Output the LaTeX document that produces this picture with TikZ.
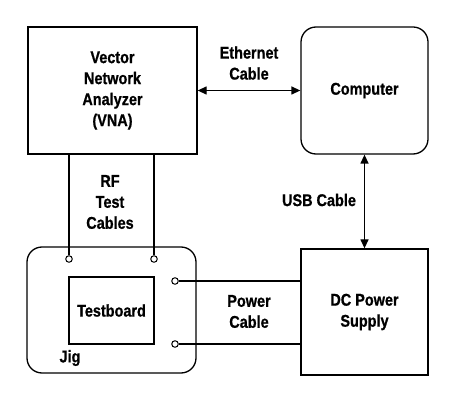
\documentclass[tikz,border=0pt]{standalone}
\usepackage{fontspec}
\setmainfont{Liberation Sans}[FakeStretch=0.85, BoldFeatures={FakeBold=0.8}]
\usetikzlibrary{arrows.meta}
\begin{document}
\begin{tikzpicture}[x=1pt,y=-1pt,
  every node/.style={font=\fontsize{17}{21}\selectfont\bfseries, align=center, inner sep=0pt},
  box/.style={draw, line width=1.3pt, minimum width=169pt, minimum height=127pt},
  rbox/.style={box, rounded corners=15pt},
  wire/.style={line width=1.3pt},
  dbl/.style={wire, {Triangle[length=9pt,width=8pt]}-{Triangle[length=9pt,width=8pt]}},
  port/.style={draw, line width=1pt, circle, minimum size=6.5pt, fill=white}]
\useasboundingbox (0,0) rectangle (460,403);
\node[box] (vna) at (112.5,90.5) {Vector\\Network\\Analyzer\\(VNA)};
\node[rbox, minimum width=127pt] (comp) at (364.5,90.5) {Computer};
\node[box, minimum width=127pt, minimum height=126pt] (dc) at (364.5,312) {DC Power\\Supply};
\node[rbox, minimum height=126pt] (jig) at (111.5,310) {};
\node[draw, line width=1.3pt, minimum width=85pt, minimum height=67pt] (tb) at (111.5,310.5) {Testboard};
\node (jiglbl) at (70,358) {Jig};
\node[port] (p1) at (69,259) {};
\node[port] (p2) at (154,259) {};
\node[port] (p3) at (175,281) {};
\node[port] (p4) at (175,344) {};
\coordinate (v1) at (69,154);
\coordinate (v2) at (154,154);
\draw[wire] (v1) -- (p1);
\draw[wire] (v2) -- (p2);
\draw[wire] (p3) -- (p3 -| dc.west);
\draw[wire] (p4) -- (p4 -| dc.west);
\draw[dbl] (vna.east) -- (comp.west);
\draw[dbl] (comp.south) -- (dc.north);
\node (eth) at (249,63) {Ethernet\\Cable};
\node (rf) at (110,202) {RF\\Test\\Cables};
\node (usb) at (319,200) {USB Cable};
\node (pwr) at (249,311.5) {Power\\Cable};
\end{tikzpicture}
\end{document}
